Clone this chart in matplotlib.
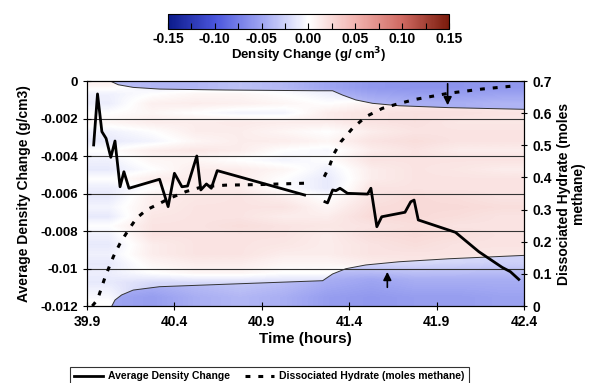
import matplotlib
matplotlib.use("Agg")
import matplotlib.pyplot as plt
import numpy as np
from matplotlib.colors import LinearSegmentedColormap, Normalize
from matplotlib.patches import Polygon

plt.rcParams['font.family'] = ['Liberation Sans', 'DejaVu Sans']
plt.rcParams['font.weight'] = 'bold'

# ---- data ----
# average density change (left axis), NaN marks the gap in the record
dens_t = [39.938, 39.96, 39.985, 40.009, 40.036, 40.06, 40.089, 40.111, 40.14,
          40.315, 40.364, 40.40, 40.443, 40.475, 40.528, 40.551, 40.583, 40.611,
          40.645, 41.145, 41.20,
          41.261, 41.276, 41.305, 41.324, 41.347, 41.362, 41.39, 41.505, 41.524,
          41.558, 41.586, 41.719, 41.752, 41.771, 41.795, 42.008, 42.141, 42.275,
          42.322, 42.37]
dens_v = [-0.00341, -0.00069, -0.0027, -0.00306, -0.00407, -0.0032, -0.00564, -0.00484, -0.00572,
          -0.00524, -0.0067, -0.00492, -0.00564, -0.0056, -0.0040, -0.00581, -0.00549, -0.00572,
          -0.00478, -0.00608, np.nan,
          -0.00644, -0.0065, -0.00581, -0.00585, -0.00572, -0.00581, -0.00599, -0.00603, -0.00572,
          -0.00777, -0.00724, -0.0070, -0.00644, -0.00635, -0.00741, -0.00807, -0.0091, -0.00994,
          -0.01017, -0.01058]

# dissociated hydrate (right axis, moles methane)
hyd_t = [39.93, 39.96, 40.004, 40.051, 40.089, 40.136, 40.183, 40.24, 40.315, 40.372,
         40.466, 40.56, 40.692, 40.9, 41.145, 41.20,
         41.257, 41.286, 41.314, 41.352, 41.419, 41.495, 41.59, 41.685, 41.78,
         41.97, 42.16, 42.35]
hyd_v = [0.0, 0.02, 0.091, 0.154, 0.195, 0.236, 0.273, 0.299, 0.319, 0.335,
         0.356, 0.371, 0.376, 0.378, 0.382, np.nan,
         0.402, 0.434, 0.475, 0.511, 0.553, 0.589, 0.615, 0.630, 0.643,
         0.662, 0.675, 0.685]

# boundaries of the blue (low density) bands
upper_t = [40.032, 40.079, 40.164, 40.315, 40.69, 41.22, 41.305, 41.362, 41.438, 41.533,
           41.685, 41.97, 42.4]
upper_v = [0.0, -0.0002, -0.00034, -0.00043, -0.00048, -0.00052, -0.00052, -0.00075, -0.00101,
           -0.00119, -0.00132, -0.00142, -0.00151]
lower_t = [40.042, 40.06, 40.098, 40.164, 40.315, 40.69, 41.248, 41.305, 41.381, 41.495,
           41.685, 41.97, 42.4]
lower_v = [-0.012, -0.01168, -0.01141, -0.01115, -0.01097, -0.01084, -0.01065, -0.01029,
           -0.01001, -0.00981, -0.00964, -0.00948, -0.0093]

# density change field (g/cm3), rows 0 -> -0.012 in 0.0005 steps, columns 39.9 -> 42.4
field = np.array([
    [0.008, -0.012, -0.012, -0.012, -0.012, -0.015, -0.02, -0.02, -0.02, -0.02],
    [-0.008, 0.0, 0.006, 0.006, 0.0, -0.008, -0.02, -0.02, -0.02, -0.02],
    [-0.01, 0.01, 0.012, 0.01, 0.006, 0.0, 0.008, 0.014, 0.014, 0.014],
    [0.0, 0.006, 0.0, -0.006, -0.006, 0.012, 0.018, 0.02, 0.02, 0.018],
    [0.006, 0.012, 0.012, 0.014, 0.012, 0.012, 0.018, 0.02, 0.016, 0.016],
    [-0.008, 0.0, 0.012, 0.012, 0.006, 0.0, 0.012, 0.018, 0.018, 0.018],
    [-0.012, -0.006, 0.006, 0.012, 0.012, 0.006, 0.018, 0.022, 0.018, 0.018],
    [0.0, 0.012, 0.016, 0.012, 0.0, -0.004, 0.012, 0.018, 0.012, 0.012],
    [-0.008, 0.006, 0.006, 0.0, -0.006, 0.0, 0.018, 0.018, 0.018, 0.018],
    [-0.012, 0.0, 0.012, 0.012, 0.006, -0.008, 0.012, 0.018, 0.016, 0.012],
    [0.0, 0.012, 0.012, 0.012, 0.0, -0.012, 0.012, 0.018, 0.018, 0.018],
    [-0.01, 0.0, 0.012, 0.012, 0.0, -0.012, 0.018, 0.018, 0.018, 0.018],
    [-0.012, 0.012, 0.016, 0.018, 0.012, 0.0, 0.018, 0.024, 0.022, 0.018],
    [-0.006, 0.012, 0.018, 0.018, 0.018, 0.006, 0.022, 0.024, 0.024, 0.022],
    [-0.012, 0.016, 0.018, 0.018, 0.012, 0.012, 0.024, 0.024, 0.022, 0.018],
    [0.0, 0.018, 0.018, 0.022, 0.018, 0.016, 0.018, 0.022, 0.018, 0.018],
    [-0.008, 0.018, 0.018, 0.018, 0.018, 0.012, 0.022, 0.024, 0.022, 0.018],
    [-0.012, 0.012, 0.018, 0.018, 0.016, 0.012, 0.018, 0.022, 0.018, 0.018],
    [-0.008, 0.012, 0.018, 0.018, 0.012, 0.012, 0.018, 0.018, 0.018, 0.016],
    [-0.012, 0.006, 0.012, 0.012, 0.006, 0.006, 0.012, 0.016, 0.012, 0.012],
    [-0.01, 0.0, 0.006, 0.006, 0.0, 0.0, -0.01, -0.01, -0.01, -0.01],
    [-0.012, -0.02, -0.02, -0.02, -0.02, -0.02, -0.03, -0.03, -0.03, -0.03],
    [-0.006, -0.03, -0.03, -0.03, -0.03, -0.035, -0.04, -0.04, -0.04, -0.04],
    [0.0, -0.035, -0.035, -0.035, -0.035, -0.04, -0.045, -0.045, -0.045, -0.045],
])
# low density bands: top band covers 0 -> -0.0016, bottom band -0.0092 -> -0.012
top_band = np.array([
    [-0.035, -0.04, -0.04, -0.035, -0.04, -0.05, -0.058, -0.06, -0.06, -0.058],
    [-0.02, -0.025, -0.025, -0.022, -0.025, -0.03, -0.04, -0.045, -0.045, -0.042],
])
bottom_band = np.array([
    [-0.015, -0.02, -0.02, -0.02, -0.02, -0.025, -0.02, -0.02, -0.022, -0.025],
    [-0.035, -0.04, -0.035, -0.03, -0.035, -0.045, -0.05, -0.045, -0.045, -0.045],
    [-0.05, -0.055, -0.045, -0.04, -0.045, -0.055, -0.058, -0.055, -0.055, -0.052],
])

x_ticks = [39.9, 40.4, 40.9, 41.4, 41.9, 42.4]
y_ticks = [0, -0.002, -0.004, -0.006, -0.008, -0.01, -0.012]
y_labels = ['0', '-0.002', '-0.004', '-0.006', '-0.008', '-0.01', '-0.012']
r_ticks = [0, 0.1, 0.2, 0.3, 0.4, 0.5, 0.6, 0.7]
r_labels = ['0', '0.1', '0.2', '0.3', '0.4', '0.5', '0.6', '0.7']
cb_ticks = [-0.15, -0.10, -0.05, 0.0, 0.05, 0.10, 0.15]
arrow_down_t, arrow_down_y = 41.963, (0.0, -0.00144)
arrow_up_t, arrow_up_y = 41.618, (-0.01115, -0.01003)

# ---- figure ----
cmap = LinearSegmentedColormap.from_list(
    'dens', ['#0b1a8a', '#4a55dc', '#a0a6f2', '#ffffff', '#f2b4b0', '#d06a62', '#7a1b0c'])
norm = Normalize(-0.15, 0.15)

fig = plt.figure(figsize=(5.94, 3.83), dpi=100)
ax = fig.add_axes([0.1465, 0.201, 0.7357, 0.5875])
extent = [39.9, 42.4, -0.012, 0.0]

im = ax.imshow(field, extent=extent, cmap=cmap, norm=norm, aspect='auto',
               interpolation='bilinear', zorder=0)

# blue bands, clipped to the band outlines
top_poly = Polygon(list(zip([39.9] + upper_t + [42.4], [0.0] + upper_v + [0.0])),
                   closed=True, transform=ax.transData, facecolor='none', edgecolor='none')
bot_poly = Polygon(list(zip(lower_t + [42.4, 40.042], lower_v + [-0.012, -0.012])),
                   closed=True, transform=ax.transData, facecolor='none', edgecolor='none')
bands = [(top_band, top_poly, [39.9, 42.4, -0.0016, 0.0]),
         (bottom_band, bot_poly, [39.9, 42.4, -0.012, -0.0092])]
for band, poly, ext in bands:
    ax.add_patch(poly)
    b = ax.imshow(band, extent=ext, cmap=cmap, norm=norm, aspect='auto',
                  interpolation='bilinear', zorder=0.5)
    b.set_clip_path(poly)

ax.plot(upper_t, upper_v, color='#333333', lw=0.7, zorder=2)
ax.plot(lower_t, lower_v, color='#333333', lw=0.7, zorder=2)

for yv in y_ticks[1:-1]:
    ax.axhline(yv, color='#333333', lw=0.8, zorder=1)

l1, = ax.plot(dens_t, dens_v, color='black', lw=2.0, zorder=4,
              label='Average Density Change')

ax.annotate('', xy=(arrow_down_t, arrow_down_y[1]), xytext=(arrow_down_t, arrow_down_y[0]),
            arrowprops=dict(arrowstyle='-|>', color='black', lw=1.2, mutation_scale=12),
            zorder=5)
ax.annotate('', xy=(arrow_up_t, arrow_up_y[1]), xytext=(arrow_up_t, arrow_up_y[0]),
            arrowprops=dict(arrowstyle='-|>', color='black', lw=1.2, mutation_scale=12),
            zorder=5)

ax.set_xlim(39.9, 42.4)
ax.set_ylim(-0.012, 0.0)
ax.set_xticks(x_ticks)
ax.set_xticklabels([f'{t:.1f}' for t in x_ticks], fontsize=10, fontweight='bold')
ax.set_yticks(y_ticks)
ax.set_yticklabels(y_labels, fontsize=9.5, fontweight='bold')
ax.tick_params(direction='inout', length=6, width=0.8)
ax.set_xlabel('Time (hours)', fontsize=11, fontweight='bold', labelpad=2)
ax.set_ylabel('Average Density Change (g/cm3)', fontsize=10, fontweight='bold', labelpad=7)

ax2 = ax.twinx()
l2, = ax2.plot(hyd_t, hyd_v, color='black', lw=2.2, linestyle=(0, (1.6, 2.6)),
               label='Dissociated Hydrate (moles methane)')
ax2.set_ylim(0, 0.7)
ax2.set_yticks(r_ticks)
ax2.set_yticklabels(r_labels, fontsize=10, fontweight='bold')
ax2.tick_params(direction='inout', length=5, width=0.8)
ax2.set_ylabel('Dissociated Hydrate (moles\nmethane)', fontsize=10, fontweight='bold',
               rotation=90, labelpad=4, linespacing=1.0)

# colorbar
cax = fig.add_axes([0.2828, 0.924, 0.473, 0.039])
cb = fig.colorbar(im, cax=cax, orientation='horizontal', ticks=cb_ticks)
cb.ax.set_xticklabels([f'{t:.2f}' for t in cb_ticks], fontsize=10, fontweight='bold')
cb.ax.set_xticks(np.arange(-0.125, 0.15, 0.05), minor=True)
cb.ax.tick_params(which='both', direction='in', length=4, width=0.8, pad=2)
cb.set_label('Density Change (g/ cm$^\\mathbf{3}$)', fontsize=9.5, fontweight='bold', labelpad=0)
cb.outline.set_linewidth(0.8)

leg = fig.legend(handles=[l1, l2], loc='upper center', bbox_to_anchor=(0.453, 0.055),
                 ncol=2, fontsize=7.5, frameon=True, fancybox=False, edgecolor='black',
                 handlelength=2.8, handletextpad=0.5, columnspacing=1.4, borderpad=0.4)
for t in leg.get_texts():
    t.set_fontweight('bold')
leg.get_frame().set_linewidth(0.8)

fig.savefig('out.png', dpi=100)
